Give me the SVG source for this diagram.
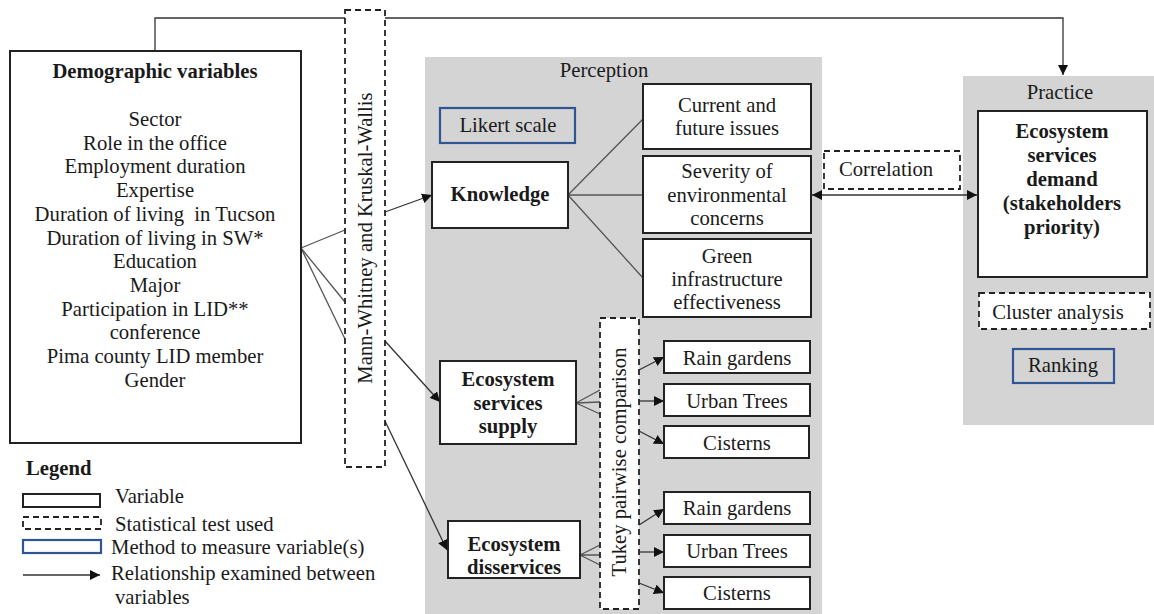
<svg xmlns="http://www.w3.org/2000/svg" width="1154" height="614" viewBox="0 0 1154 614">
<defs>
<marker id="ah" viewBox="0 0 10 10" refX="10" refY="5" markerWidth="10" markerHeight="10" markerUnits="userSpaceOnUse" orient="auto-start-reverse">
<path d="M0,0 L10,5 L0,10 z" fill="#111"/>
</marker>
<style>
text{font-family:"Liberation Serif","Times New Roman",serif;font-size:20.7px;fill:#1a1a1a}
.c{text-anchor:middle}
.b{font-weight:bold}
.panel{fill:#d4d4d4;stroke:none}
.box{fill:#fff;stroke:#222;stroke-width:2}
.dash{fill:#fff;stroke:#222;stroke-width:1.8;stroke-dasharray:6 4}
.blue{fill:none;stroke:#2f5597;stroke-width:2.2}
.ln{fill:none;stroke:#555;stroke-width:1.3}
.ar{fill:none;stroke:#333;stroke-width:1.3;marker-end:url(#ah)}
.ar2{fill:none;stroke:#333;stroke-width:1.3;marker-end:url(#ah);marker-start:url(#ah)}
</style>
</defs>
<rect width="1154" height="614" fill="#fff"/>

<g id="panels">
<rect id="perception-panel" class="panel" x="425" y="57" width="397" height="557"/>
<text class="c" x="604" y="77">Perception</text>
<rect id="practice-panel" class="panel" x="963" y="76" width="191" height="349"/>
<text class="c" x="1060" y="99">Practice</text>
</g>

<g id="connectors">
<path class="ar" d="M155,51 V18 H1063 V75"/>
<path class="ln" d="M301,248 L345,230"/>
<path class="ar" d="M385,212 L432,195"/>
<path class="ln" d="M301,248 L345,302"/>
<path class="ar" d="M385,341 L440,402"/>
<path class="ln" d="M301,248 L345,339"/>
<path class="ar" d="M385,421 L447,550"/>
<path class="ln" d="M568,195 L643,119 M568,195 L643,195 M568,195 L643,278"/>
<path class="ar2" d="M812,195 L977,195"/>
<path class="ln" d="M576,403 L600,390 M576,403 L600,402 M576,403 L600,414"/>
<path class="ar" d="M639,370 L664,357"/>
<path class="ar" d="M639,401 L664,401"/>
<path class="ar" d="M639,431 L664,444"/>
<path class="ln" d="M580,555 L600,545 M580,555 L600,555 M580,555 L600,565"/>
<path class="ar" d="M639,525 L664,509"/>
<path class="ar" d="M639,552 L664,552"/>
<path class="ar" d="M639,583 L664,593"/>
</g>

<g id="demographic">
<rect class="box" x="10" y="51" width="291" height="392"/>
<text class="c b" x="155" y="78">Demographic variables</text>
<text class="c" x="155" y="126">Sector</text>
<text class="c" x="155" y="150">Role in the office</text>
<text class="c" x="155" y="173">Employment duration</text>
<text class="c" x="155" y="197">Expertise</text>
<text class="c" x="155" y="221" xml:space="preserve">Duration of living  in Tucson</text>
<text class="c" x="155" y="245">Duration of living in SW*</text>
<text class="c" x="155" y="268">Education</text>
<text class="c" x="155" y="292">Major</text>
<text class="c" x="155" y="316">Participation in LID**</text>
<text class="c" x="155" y="339">conference</text>
<text class="c" x="155" y="363">Pima county LID member</text>
<text class="c" x="155" y="387">Gender</text>
</g>

<g id="mann-whitney">
<rect class="dash" x="345" y="10" width="40" height="457"/>
<text class="c" transform="translate(372,238) rotate(-90)">Mann-Whitney and Kruskal-Wallis</text>
</g>

<g id="likert">
<rect class="blue" x="440" y="108" width="135" height="35"/>
<text class="c" x="508" y="132">Likert scale</text>
</g>

<g id="knowledge">
<rect class="box" x="432" y="162" width="136" height="66"/>
<text class="c b" x="500" y="201">Knowledge</text>
</g>

<g id="current-issues">
<rect class="box" x="643" y="84" width="168" height="65"/>
<text class="c" x="727" y="112">Current and</text>
<text class="c" x="727" y="135">future issues</text>
</g>

<g id="severity">
<rect class="box" x="643" y="156" width="168" height="77"/>
<text class="c" x="727" y="178">Severity of</text>
<text class="c" x="727" y="202">environmental</text>
<text class="c" x="727" y="225">concerns</text>
</g>

<g id="green-infra">
<rect class="box" x="643" y="239" width="168" height="78"/>
<text class="c" x="727" y="263">Green</text>
<text class="c" x="727" y="286">infrastructure</text>
<text class="c" x="727" y="309">effectiveness</text>
</g>

<g id="correlation">
<rect class="dash" x="824" y="151" width="136" height="38"/>
<text class="c" x="886" y="176">Correlation</text>
</g>

<g id="es-demand">
<rect class="box" x="978" y="111" width="169" height="166"/>
<text class="c b" x="1062" y="138">Ecosystem</text>
<text class="c b" x="1062" y="162">services</text>
<text class="c b" x="1062" y="186">demand</text>
<text class="c b" x="1062" y="210">(stakeholders</text>
<text class="c b" x="1062" y="234">priority)</text>
</g>

<g id="cluster">
<rect class="dash" x="979" y="293" width="171" height="36"/>
<text class="c" x="1058" y="319">Cluster analysis</text>
</g>

<g id="ranking">
<rect class="blue" x="1013" y="349" width="101" height="34"/>
<text class="c" x="1063" y="372">Ranking</text>
</g>

<g id="tukey">
<rect class="dash" x="600" y="318" width="39" height="291"/>
<text class="c" transform="translate(626,462) rotate(-90)">Tukey pairwise comparison</text>
</g>

<g id="es-supply">
<rect class="box" x="440" y="361" width="136" height="83"/>
<text class="c b" x="508" y="386">Ecosystem</text>
<text class="c b" x="508" y="410">services</text>
<text class="c b" x="508" y="433">supply</text>
</g>

<g id="es-disservices">
<rect class="box" x="448" y="521" width="132" height="57"/>
<text class="c b" x="514" y="551">Ecosystem</text>
<text class="c b" x="514" y="574">disservices</text>
</g>

<g id="supply-rain">
<rect class="box" x="664" y="341" width="146" height="32"/>
<text class="c" x="737" y="365">Rain gardens</text>
</g>
<g id="supply-trees">
<rect class="box" x="664" y="384" width="146" height="32"/>
<text class="c" x="737" y="408">Urban Trees</text>
</g>
<g id="supply-cisterns">
<rect class="box" x="664" y="426" width="145" height="32"/>
<text class="c" x="737" y="450">Cisterns</text>
</g>
<g id="dis-rain">
<rect class="box" x="664" y="492" width="146" height="32"/>
<text class="c" x="737" y="515">Rain gardens</text>
</g>
<g id="dis-trees">
<rect class="box" x="664" y="535" width="146" height="32"/>
<text class="c" x="737" y="558">Urban Trees</text>
</g>
<g id="dis-cisterns">
<rect class="box" x="664" y="577" width="146" height="32"/>
<text class="c" x="737" y="600">Cisterns</text>
</g>

<g id="legend">
<text class="b" x="26" y="475">Legend</text>
<rect class="box" x="23" y="494" width="77" height="13"/>
<text x="115" y="503">Variable</text>
<rect class="dash" x="23" y="517" width="78" height="12"/>
<text x="115" y="531">Statistical test used</text>
<rect class="blue" x="23" y="540" width="78" height="13"/>
<text x="111" y="554">Method to measure variable(s)</text>
<path class="ar" d="M23,575 L100,575"/>
<text x="111" y="580">Relationship examined between</text>
<text x="115" y="604">variables</text>
</g>
</svg>
